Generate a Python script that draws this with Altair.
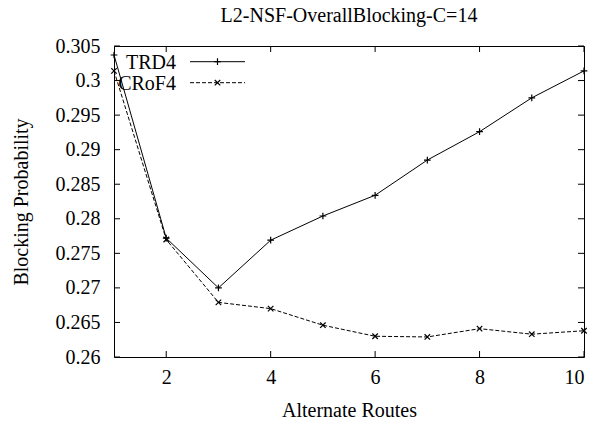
import altair as alt
import pandas as pd

routes = [1, 2, 3, 4, 5, 6, 7, 8, 9, 10]
trd4 = [0.3037, 0.2772, 0.2700, 0.2769, 0.2804, 0.2834, 0.2885, 0.2926, 0.2975, 0.3014]
crof4 = [0.3014, 0.2770, 0.2679, 0.2670, 0.2646, 0.2630, 0.2629, 0.2641, 0.2633, 0.2638]
series_names = ["TRD4", "CRoF4"]
y_ticks = [0.26, 0.265, 0.27, 0.275, 0.28, 0.285, 0.29, 0.295, 0.3, 0.305]
x_ticks = [2, 4, 6, 8, 10]

W, H = 470, 311
FONT = "Liberation Serif, Times New Roman, DejaVu Serif, serif"
PLUS = "M-1,0L1,0M0,-1L0,1"
CROSS = "M-1,-1L1,1M-1,1L1,-1"
DASH = [4, 2]

df = pd.DataFrame({
    "x": routes * 2,
    "y": trd4 + crof4,
    "s": [series_names[0]] * len(routes) + [series_names[1]] * len(routes),
})
ytick_df = pd.DataFrame({"y": y_ticks})
xtick_df = pd.DataFrame({"x": x_ticks})
leg_df = pd.DataFrame({"s": series_names})

xs = alt.Scale(domain=[1, 10], nice=False, zero=False)
ys = alt.Scale(domain=[0.26, 0.305], nice=False, zero=False)

x_axis = alt.Axis(values=x_ticks, title="Alternate Routes", grid=False, domain=False,
                  tickSize=0, labelFont=FONT, labelFontSize=20, labelColor="black",
                  labelPadding=10, titleFont=FONT, titleFontSize=20, titleFontWeight="normal",
                  titleColor="black", titlePadding=13)
y_axis = alt.Axis(values=y_ticks, format=".3~f", title="Blocking Probability", grid=False,
                  domain=False, tickSize=0, labelFont=FONT, labelFontSize=20,
                  labelColor="black", labelPadding=14, titleFont=FONT, titleFontSize=20,
                  titleFontWeight="normal", titleColor="black", titlePadding=24)

X = alt.X("x:Q", scale=xs, axis=x_axis, title="Alternate Routes")
Y = alt.Y("y:Q", scale=ys, axis=y_axis, title="Blocking Probability")

base = alt.Chart(df)

trd_line = base.transform_filter(alt.datum.s == series_names[0]).mark_line(
    color="black", strokeWidth=1).encode(x=X, y=Y)
trd_pts = base.transform_filter(alt.datum.s == series_names[0]).mark_point(
    shape=PLUS, filled=False, color="black", strokeWidth=1.2, size=45, opacity=1).encode(x=X, y=Y)
crof_line = base.transform_filter(alt.datum.s == series_names[1]).mark_line(
    color="black", strokeWidth=1, strokeDash=DASH).encode(x=X, y=Y)
crof_pts = base.transform_filter(alt.datum.s == series_names[1]).mark_point(
    shape=CROSS, filled=False, color="black", strokeWidth=1.2, size=30, opacity=1).encode(x=X, y=Y)

tk = dict(color="black", strokeWidth=1)
ytl = alt.Chart(ytick_df).mark_rule(**tk).encode(
    y=Y, x=alt.value(0), x2=alt.value(6))
ytr = alt.Chart(ytick_df).mark_rule(**tk).encode(
    y=Y, x=alt.value(W - 6), x2=alt.value(W))
xtb = alt.Chart(xtick_df).mark_rule(**tk).encode(
    x=X, y=alt.value(H - 6), y2=alt.value(H))
xtt = alt.Chart(xtick_df).mark_rule(**tk).encode(
    x=X, y=alt.value(0), y2=alt.value(6))

leg_layers = []
row_y = [15.7, 36.7]
for i, (shape, dash, sz) in enumerate([(PLUS, [1, 0], 45), (CROSS, DASH, 30)]):
    d = alt.Chart(leg_df).transform_filter(alt.datum.s == series_names[i])
    leg_layers.append(d.mark_text(align="right", baseline="middle", font=FONT, fontSize=20,
                                  color="black").encode(
        text="s:N", x=alt.value(62), y=alt.value(row_y[i] + 1)))
    leg_layers.append(d.mark_rule(color="black", strokeWidth=1, strokeDash=dash).encode(
        x=alt.value(76), x2=alt.value(131), y=alt.value(row_y[i])))
    leg_layers.append(d.mark_point(shape=shape, filled=False, color="black", strokeWidth=1.2,
                                   size=sz, opacity=1).encode(
        x=alt.value(103.5), y=alt.value(row_y[i])))

chart = alt.layer(trd_line, crof_line, trd_pts, crof_pts, ytl, ytr, xtb, xtt, *leg_layers).properties(
    width=W, height=H,
    title=alt.TitleParams("L2-NSF-OverallBlocking-C=14", font=FONT, fontSize=20,
                          fontWeight="normal", color="black", anchor="middle", offset=10),
    autosize=alt.AutoSizeParams(type="none"),
    padding={"left": 114, "top": 46, "right": 11, "bottom": 67},
).configure_view(stroke="black", strokeWidth=1)

chart.save("out.html", embed_options={"renderer": "svg", "actions": False})
